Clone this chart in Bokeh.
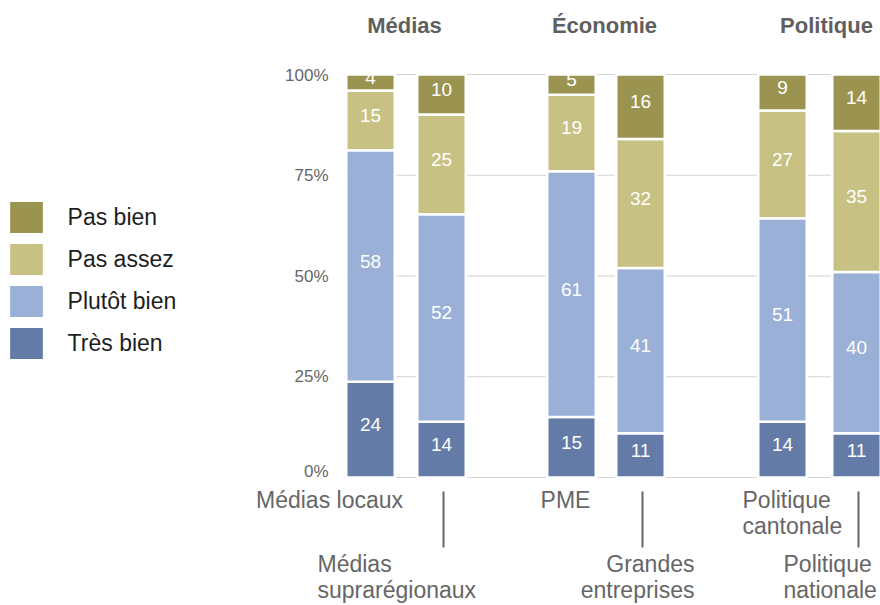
from bokeh.plotting import figure
from bokeh.models import Range1d, ColumnDataSource, Legend, LegendItem
from bokeh.embed import file_html
from bokeh.resources import INLINE
from bokeh.core.properties import value, field

# ---------------- data ----------------
categories = ["Médias locaux", "Médias suprarégionaux", "PME",
              "Grandes entreprises", "Politique cantonale", "Politique nationale"]
category_labels = ["Médias locaux", "Médias\nsuprarégionaux", "PME",
                   "Grandes\nentreprises", "Politique\ncantonale", "Politique\nnationale"]
groups = ["Médias", "Économie", "Politique"]
series = ["Très bien", "Plutôt bien", "Pas assez", "Pas bien"]
tres_bien = [24, 14, 15, 11, 14, 11]
plutot_bien = [58, 52, 61, 41, 51, 40]
pas_assez = [15, 25, 19, 32, 27, 35]
pas_bien = [4, 10, 5, 16, 9, 14]
y_ticks = [0, 25, 50, 75, 100]
tick_labels = ["0%", "25%", "50%", "75%", "100%"]

# ---------------- layout / style ----------------
colors = ["#637ba6", "#9ab0d6", "#c7c184", "#9b9450"]
BAR_X = [370, 441, 571, 640, 782, 856]          # x positions (screen-like units)
GROUP_X = [404, 604, 826]
LABEL_X = [329, 317, 565, 694, 742, 783]
LABEL_ALIGN = ["center", "left", "center", "right", "left", "left"]
LABEL_ROW = [0, 1, 0, 1, 0, 1]
W, H = 880, 605
PX = 4.03            # pixels per percent
ZERO_PX = 477        # pixel row of 0%
BAR_W = 48.5
FONT = "Liberation Sans"
GRAY = "#666666"

y0 = -(H - ZERO_PX) / PX
y1 = ZERO_PX / PX

p = figure(width=W, height=H, output_backend="svg", toolbar_location=None,
           x_range=Range1d(0, W), y_range=Range1d(y0, y1),
           x_axis_location=None, y_axis_location=None, min_border=0)
p.xgrid.visible = False
p.ygrid.visible = False
p.outline_line_color = None
p.background_fill_color = "white"

# gridlines
p.segment(x0=[BAR_X[0] - 26] * len(y_ticks), x1=[W + 5] * len(y_ticks),
          y0=y_ticks, y1=y_ticks, line_color="#d2d2d2", line_width=1)

# white column backgrounds to break gridlines around bars
p.quad(left=[x - BAR_W / 2 - 1.5 for x in BAR_X], right=[x + BAR_W / 2 + 1.5 for x in BAR_X],
       bottom=[-0.5] * len(BAR_X), top=[100.5] * len(BAR_X),
       fill_color="white", line_color=None)

# stacked segments (normalised to 100)
vals = [tres_bien, plutot_bien, pas_assez, pas_bien]
totals = [sum(v[i] for v in vals) for i in range(len(categories))]
bottoms = [0.0] * len(categories)
renderers = []
lab_x, lab_y, lab_t = [], [], []
for k, s in enumerate(series):
    tops = [bottoms[i] + vals[k][i] * 100.0 / totals[i] for i in range(len(categories))]
    src = ColumnDataSource(dict(left=[x - BAR_W / 2 for x in BAR_X],
                                right=[x + BAR_W / 2 for x in BAR_X],
                                bottom=bottoms, top=tops))
    r = p.quad(left="left", right="right", bottom="bottom", top="top", source=src,
               fill_color=colors[k], line_color="white", line_width=2.5)
    renderers.append(r)
    for i in range(len(categories)):
        lab_x.append(BAR_X[i])
        lab_y.append((bottoms[i] + tops[i]) / 2)
        lab_t.append(str(vals[k][i]))
    bottoms = tops

p.text(x=lab_x, y=lab_y, text=lab_t, text_font=value(FONT), text_font_size="19px",
       text_color="white", text_align="center", text_baseline="middle", y_offset=-5)

# y tick labels
p.text(x=[328] * len(y_ticks), y=y_ticks, text=tick_labels,
       y_offset=[-6, 0, 0, 0, 1],
       text_font=value(FONT), text_font_size="17px", text_color=GRAY,
       text_align="right", text_baseline="middle")

# group titles
p.text(x=GROUP_X, y=[100] * 3, text=groups, y_offset=-49,
       text_font=value(FONT), text_font_size="22px", text_font_style="bold",
       text_color="#5f5f5f", text_align="center", text_baseline="middle")

# category labels
cat_src = ColumnDataSource(dict(x=LABEL_X, y=[0] * 6, text=category_labels,
                                align=LABEL_ALIGN,
                                yoff=[9 if r == 0 else 73 for r in LABEL_ROW]))
p.text(x="x", y="y", text="text", source=cat_src, y_offset="yoff",
       text_align=field("align"), text_baseline="top",
       text_font=value(FONT), text_font_size="23px", text_color=GRAY,
       text_line_height=1.02)

# connector lines for second-row labels
second = [i for i in range(6) if LABEL_ROW[i] == 1]
p.segment(x0=[BAR_X[i] + 2 for i in second], x1=[BAR_X[i] + 2 for i in second],
          y0=[-14 / PX] * len(second), y1=[-70 / PX] * len(second),
          line_color=GRAY, line_width=2)

# legend
items = [LegendItem(label=series[k], renderers=[renderers[k]]) for k in reversed(range(4))]
legend = Legend(items=items, location=(3.6, 241), glyph_width=44, glyph_height=42,
                spacing=0, padding=0, margin=0, label_standoff=20,
                label_text_font=FONT, label_text_font_size="23px",
                label_text_color="#1e1e1e", border_line_alpha=0,
                background_fill_alpha=0)
p.add_layout(legend)

open("out.html", "w").write(file_html(p, INLINE))
